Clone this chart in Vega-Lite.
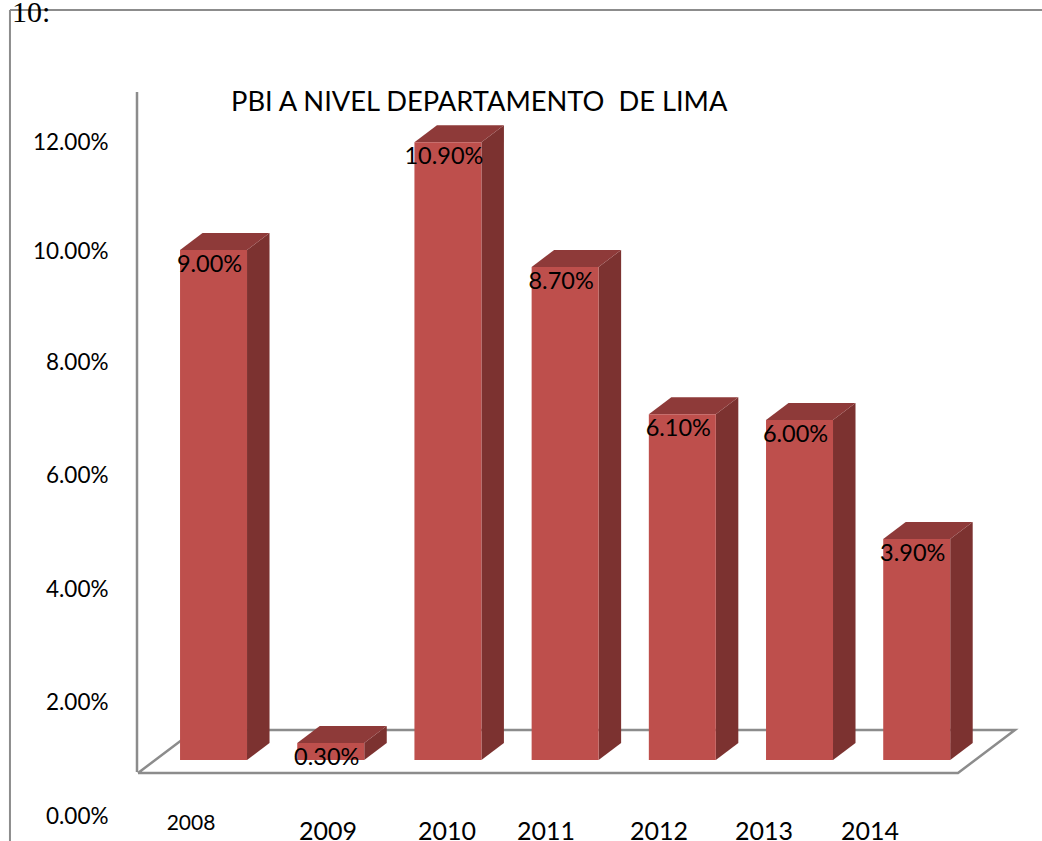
{
"$schema":"https://vega.github.io/schema/vega-lite/v6.json",
"width":1042,"height":841,"autosize":{"type":"none"},"padding":0,
"background":"white",
"config":{"font":"Lato","view":{"stroke":null}},
"title":{"text":"PBI A NIVEL DEPARTAMENTO\u00a0 DE LIMA","anchor":"start","frame":"group","dx":231,"offset":-118,"fontSize":27.3,"font":"Lato","fontWeight":"normal","color":"#000000"},
"datasets":{
"one":[{"note":"frame"}],
"bars":[{"year":2008,"value":0.09,"label":"9.00%"},{"year":2009,"value":0.003,"label":"0.30%"},{"year":2010,"value":0.109,"label":"10.90%"},{"year":2011,"value":0.087,"label":"8.70%"},{"year":2012,"value":0.061,"label":"6.10%"},{"year":2013,"value":0.06,"label":"6.00%"},{"year":2014,"value":0.039,"label":"3.90%"}],
"floor":[{"o":0,"px":2007.3555,"lv":-0.002294},{"o":1,"px":2014.352,"lv":-0.002294},{"o":2,"px":2014.838,"lv":0.005294},{"o":3,"px":2007.842,"lv":0.005294},{"o":4,"px":2007.3555,"lv":-0.002294}],
"cats":[{"cat":"2008","at":2007.808,"lv":-0.0113},{"cat":"2009","at":2008.977,"lv":-0.0127},{"cat":"2010","at":2009.992,"lv":-0.0127},{"cat":"2011","at":2010.837,"lv":-0.0127},{"cat":"2012","at":2011.801,"lv":-0.0127},{"cat":"2013","at":2012.697,"lv":-0.0127},{"cat":"2014","at":2013.601,"lv":-0.0127}]
},
"layer":[
{"data":{"name":"one"},"mark":{"type":"rule","stroke":"#8c8c8c","strokeWidth":2},
 "encoding":{"x":{"datum":2006.263,"type":"quantitative","scale":{"domain":[2006.178,2015.069],"nice":false,"zero":false},"axis":null},
 "y":{"datum":-0.014293,"type":"quantitative","scale":{"domain":[-0.014293,0.13411],"nice":false,"zero":false},
  "axis":{"title":null,"values":[0,0.02,0.04,0.06,0.08,0.1,0.12],"format":".2%","offset":-137,"domain":false,"ticks":false,"grid":false,"labelPadding":29,"labelFontSize":22.5,"labelFont":"Lato","labelColor":"#000000","labelOffset":{"expr":"datum.value==0.12?63:(datum.value==0.1?58:56)"}}},
 "y2":{"datum":0.13235}}},
{"data":{"name":"one"},"mark":{"type":"rule","stroke":"#8c8c8c","strokeWidth":2},
 "encoding":{"x":{"datum":2006.263,"type":"quantitative"},"x2":{"datum":2015.069},"y":{"datum":0.13235,"type":"quantitative"}}},
{"data":{"name":"one"},"mark":{"type":"rule","stroke":"#8c8c8c","strokeWidth":2.5},
 "encoding":{"x":{"datum":2007.347,"type":"quantitative"},"y":{"datum":0.11788,"type":"quantitative"},"y2":{"datum":-0.002118}}},
{"data":{"name":"one"},"mark":{"type":"text","font":"Liberation Serif","fontSize":30,"align":"left","baseline":"alphabetic","color":"#000000"},
 "encoding":{"x":{"datum":2006.28,"type":"quantitative"},"y":{"datum":0.1302,"type":"quantitative"},"text":{"value":"10:"}}},
{"data":{"name":"floor"},"mark":{"type":"line","stroke":"#8c8c8c","strokeWidth":2.5,"strokeJoin":"miter"},
 "encoding":{"x":{"field":"px","type":"quantitative"},"y":{"field":"lv","type":"quantitative"},"order":{"field":"o"}}},
{"data":{"name":"bars"},
 "transform":[{"calculate":"0","as":"near"},{"calculate":"1","as":"far"},{"fold":["near","far"],"as":["end","t"]},
  {"calculate":"datum.year+0.2858+datum.t*0.192","as":"sx"},
  {"calculate":"datum.t*0.003","as":"lo"},
  {"calculate":"datum.value+datum.t*0.003","as":"hi"},
  {"calculate":"datum.year-0.2858+datum.t*0.192","as":"tl"}],
 "layer":[
  {"mark":{"type":"area","fill":"#7C3230","orient":"vertical"},
   "encoding":{"x":{"field":"sx","type":"quantitative"},"y":{"field":"lo","type":"quantitative"},"y2":{"field":"hi"},"detail":{"field":"year"}}},
  {"mark":{"type":"area","fill":"#8E3A39","orient":"horizontal"},
   "encoding":{"y":{"field":"hi","type":"quantitative"},"x":{"field":"tl","type":"quantitative"},"x2":{"field":"sx"},"detail":{"field":"year"}}}
 ]},
{"data":{"name":"bars"},
 "transform":[{"calculate":"datum.year-0.2858","as":"x0"},{"calculate":"datum.year+0.2858","as":"x1"}],
 "mark":{"type":"rect","fill":"#BE4F4C"},
 "encoding":{"x":{"field":"x0","type":"quantitative"},"x2":{"field":"x1"},"y":{"field":"value","type":"quantitative"},"y2":{"datum":0}}},
{"data":{"name":"bars"},
 "mark":{"type":"text","font":"Lato","fontSize":23.5,"dx":-4,"dy":15,"color":"#000000","baseline":"middle"},
 "encoding":{"x":{"field":"year","type":"quantitative"},"y":{"field":"value","type":"quantitative"},"text":{"field":"label"}}},
{"data":{"name":"cats"},"transform":[{"filter":"datum.cat=='2008'"}],
 "mark":{"type":"text","font":"Lato","fontSize":21,"baseline":"middle","color":"#000000"},
 "encoding":{"x":{"field":"at","type":"quantitative"},"y":{"field":"lv","type":"quantitative"},"text":{"field":"cat"}}},
{"data":{"name":"cats"},"transform":[{"filter":"datum.cat!='2008'"}],
 "mark":{"type":"text","font":"Lato","fontSize":25,"baseline":"middle","color":"#000000"},
 "encoding":{"x":{"field":"at","type":"quantitative"},"y":{"field":"lv","type":"quantitative"},"text":{"field":"cat"}}}
]
}
